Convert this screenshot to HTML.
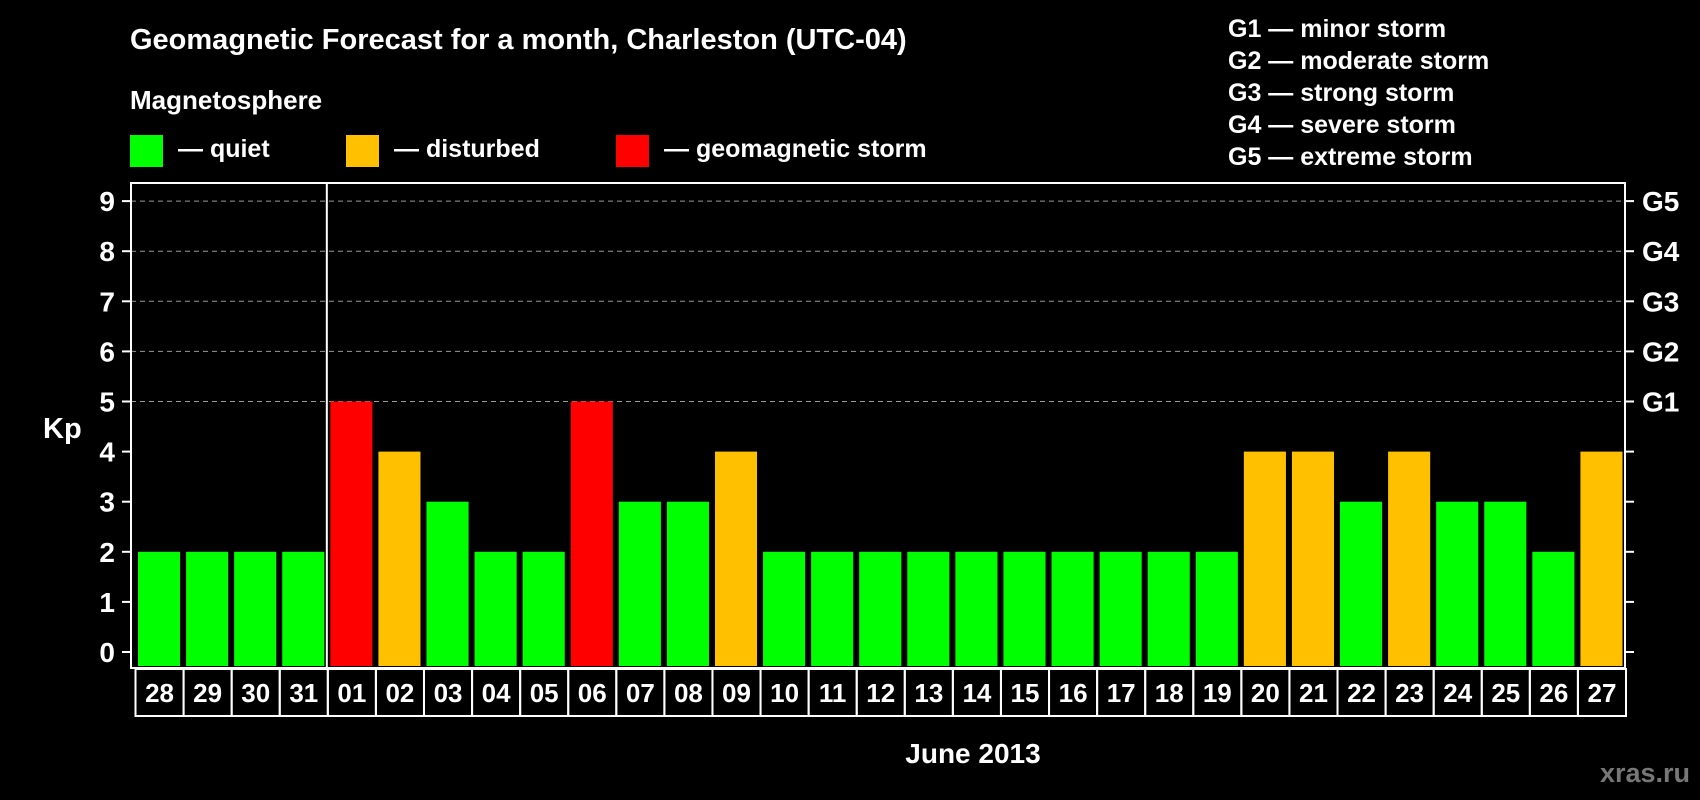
<!DOCTYPE html>
<html><head><meta charset="utf-8"><style>
html,body{margin:0;padding:0;background:#000;}
svg{display:block;font-family:"Liberation Sans",Arial,sans-serif;font-weight:bold;}
</style></head><body>
<svg id="chart" width="1700" height="800" viewBox="0 0 1700 800">
<rect width="1700" height="800" fill="#000"/>
<text x="130" y="49" font-size="29" fill="#fff">Geomagnetic Forecast for a month, Charleston (UTC-04)</text>
<text x="130" y="109" font-size="26" fill="#fff">Magnetosphere</text>
<g><rect x="130" y="135" width="33" height="32" fill="#00ff00"/><text x="178" y="157" font-size="25" fill="#fff">— quiet</text></g>
<g><rect x="346" y="135" width="33" height="32" fill="#ffc000"/><text x="394" y="157" font-size="25" fill="#fff">— disturbed</text></g>
<g><rect x="616" y="135" width="33" height="32" fill="#ff0000"/><text x="664" y="157" font-size="25" fill="#fff">— geomagnetic storm</text></g>
<g font-size="25" fill="#fff">
<text x="1228" y="37">G1 — minor storm</text>
<text x="1228" y="69">G2 — moderate storm</text>
<text x="1228" y="101">G3 — strong storm</text>
<text x="1228" y="133">G4 — severe storm</text>
<text x="1228" y="165">G5 — extreme storm</text>
</g>
<text x="43" y="438" font-size="29" fill="#fff">Kp</text>
<text x="973" y="763" font-size="28" fill="#fff" text-anchor="middle">June 2013</text>
<text x="1690" y="782" font-size="27" fill="#777" text-anchor="end">xras.ru</text>
<g id="grid"></g><g id="bars"></g><g id="axes"></g>
</svg>
<script>
const days = ["28","29","30","31","01","02","03","04","05","06","07","08","09","10","11","12","13","14","15","16","17","18","19","20","21","22","23","24","25","26","27"];
const kpValues = [2,2,2,2,5,4,3,2,2,5,3,3,4,2,2,2,2,2,2,2,2,2,2,4,4,3,4,3,3,2,4];
const yTicks = [0,1,2,3,4,5,6,7,8,9];
const gLabels = ["G1","G2","G3","G4","G5"];
const gLevels = [5,6,7,8,9];

const NS="http://www.w3.org/2000/svg";
const L=131,R=1625,T=183,B=668,x0=134.5,colW=(R-x0)/days.length;
const y=v=>652-v*50.1;
const x=i=>x0+i*colW;
function mk(tag,attrs,parent){const e=document.createElementNS(NS,tag);for(const k in attrs)e.setAttribute(k,attrs[k]);parent.appendChild(e);return e;}
const grid=document.getElementById('grid'),bars=document.getElementById('bars'),axes=document.getElementById('axes');
yTicks.forEach(v=>{
  if(v>=5){const g=mk('line',{x1:L,x2:R,y1:y(v),y2:y(v),stroke:'#999','stroke-width':1,'stroke-dasharray':'5,4'},grid);
  
  }
  const t=mk('line',{x1:122,x2:L,y1:y(v),y2:y(v),stroke:'#fff','stroke-width':2},axes);
  
  
  const tr=mk('line',{x1:R,x2:R+9,y1:y(v),y2:y(v),stroke:'#fff','stroke-width':2},axes);
  
  
  const lb=mk('text',{x:115,y:y(v)+10,'font-size':28,fill:'#fff','text-anchor':'end'},axes);
  lb.textContent=v;
  
  
});
gLabels.forEach((g,i)=>{
  const t=mk('text',{x:1642,y:y(gLevels[i])+10,'font-size':28,fill:'#fff'},axes);
  t.textContent=g;
  
  
});
kpValues.forEach((v,i)=>{
  const c=v>=5?'#ff0000':(v>=4?'#ffc000':'#00ff00');
  const b=mk('rect',{x:x(i)+3.5,y:y(v),width:colW-6,height:666-y(v),fill:c},bars);
  
  
  const cell=mk('rect',{x:x(i)+1,y:669,width:colW,height:47,fill:'none',stroke:'#fff','stroke-width':2},axes);
  
  
  const t=mk('text',{x:x(i)+colW/2+1,y:702,'font-size':26,fill:'#fff','text-anchor':'middle'},axes);
  t.textContent=days[i];
  
  
});
const frame=mk('rect',{x:L,y:T,width:R-L,height:B-T,fill:'none',stroke:'#fff','stroke-width':2},axes);


const sep=mk('line',{x1:x(4),x2:x(4),y1:T,y2:B,stroke:'#fff','stroke-width':2},axes);


</script>
</body></html>
